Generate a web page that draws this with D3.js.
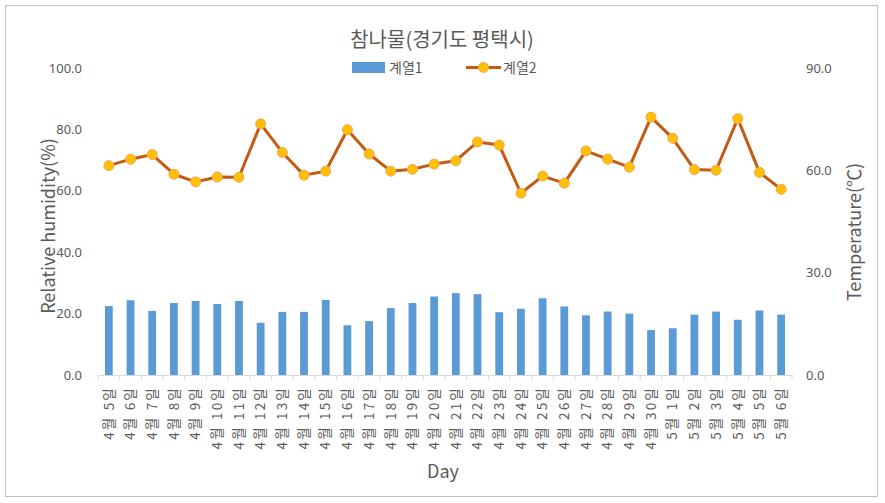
<!DOCTYPE html>
<html>
<head>
<meta charset="utf-8">
<script src="https://cdn.jsdelivr.net/npm/d3@7"></script>
<style>
  body { margin: 0; background: #fff; }
  text { font-family: "Noto Sans CJK KR", "Noto Sans", sans-serif; fill: #595959; }
</style>
</head>
<body>
<div id="chart"></div>
<script>
/*** DATA ***/
const days = ["4월 5일","4월 6일","4월 7일","4월 8일","4월 9일","4월 10일","4월 11일","4월 12일",
  "4월 13일","4월 14일","4월 15일","4월 16일","4월 17일","4월 18일","4월 19일","4월 20일",
  "4월 21일","4월 22일","4월 23일","4월 24일","4월 25일","4월 26일","4월 27일","4월 28일",
  "4월 29일","4월 30일","5월 1일","5월 2일","5월 3일","5월 4일","5월 5일","5월 6일"];
// 계열1 : bars, right axis
const series1 = [20.2,21.9,18.8,21.1,21.7,20.8,21.7,15.3,18.5,18.5,22.0,14.6,15.8,19.6,21.1,23.0,
  24.0,23.7,18.4,19.4,22.5,20.1,17.5,18.6,18.0,13.2,13.7,17.7,18.6,16.2,18.9,17.7];
// 계열2 : line, left axis
const series2 = [68.2,70.3,71.8,65.4,62.9,64.5,64.4,81.8,72.5,65.1,66.4,79.9,72.0,66.4,67.0,68.7,
  69.8,75.9,74.9,59.2,64.8,62.5,73.0,70.3,67.7,84.0,77.1,66.9,66.7,83.5,66.0,60.5];
const leftTicks = [0,20,40,60,80,100];
const rightTicks = [0,30,60,90];

/*** CHART ***/
function drawChart() {
    const width = 885, height = 503;
    const plot = {left: 98, right: 792, top: 68, bottom: 375};

    const svg = d3.select("#chart").append("svg")
        .attr("width", width)
        .attr("height", height);

    // frame
    svg.append("rect")
        .attr("x", 5.5).attr("y", 5.5)
        .attr("width", 872).attr("height", 491)
        .attr("fill", "#fff")
        .attr("stroke", "#BFBFBF");

    const x = d3.scaleBand().domain(days).range([plot.left, plot.right]).padding(0);
    const yL = d3.scaleLinear().domain([0, 100]).range([plot.bottom, plot.top]);
    const yR = d3.scaleLinear().domain([0, 90]).range([plot.bottom, plot.top]);

    // title
    svg.append("text")
        .attr("x", 442).attr("y", 47)
        .attr("text-anchor", "middle")
        .attr("font-size", 20)
        .text("참나물(경기도 평택시)");

    // left axis
    const gL = svg.append("g")
        .attr("transform", "translate(" + plot.left + ",0)")
        .call(d3.axisLeft(yL).tickValues(leftTicks).tickFormat(d3.format(".1f")).tickSize(0).tickPadding(16));
    gL.select(".domain").remove();
    gL.selectAll("text").attr("font-size", 13).style("font-family", "'Liberation Sans Narrow','Noto Sans',sans-serif").attr("fill", "#595959");

    // right axis
    const gR = svg.append("g")
        .attr("transform", "translate(" + plot.right + ",0)")
        .call(d3.axisRight(yR).tickValues(rightTicks).tickFormat(d3.format(".1f")).tickSize(0).tickPadding(14));
    gR.select(".domain").remove();
    gR.selectAll("text").attr("font-size", 13).style("font-family", "'Liberation Sans Narrow','Noto Sans',sans-serif").attr("fill", "#595959");

    // bars
    const bw = x.bandwidth() * 0.36;
    svg.selectAll("rect.bar")
        .data(series1)
        .enter().append("rect")
        .attr("class", "bar")
        .attr("x", (d, i) => x(days[i]) + x.bandwidth() / 2 - bw / 2)
        .attr("y", d => yR(d))
        .attr("width", bw)
        .attr("height", d => yR(0) - yR(d))
        .attr("fill", "#5B9BD5");

    // x axis
    const gX = svg.append("g")
        .attr("transform", "translate(0," + plot.bottom + ")")
        .call(d3.axisBottom(x).tickSize(0).tickPadding(0));
    gX.select(".domain").attr("stroke", "#D9D9D9");
    gX.selectAll(".tick text")
        .attr("font-size", 13.5)
        .attr("letter-spacing", "2.2px")
        .attr("fill", "#595959")
        .attr("transform", "rotate(-90)")
        .attr("text-anchor", "end")
        .attr("x", -11)
        .attr("y", 0)
        .attr("dy", "0.35em");
    // boundary ticks
    gX.selectAll("line.bound")
        .data(d3.range(days.length + 1))
        .enter().append("line")
        .attr("class", "bound")
        .attr("x1", i => plot.left + i * x.step())
        .attr("x2", i => plot.left + i * x.step())
        .attr("y1", 0).attr("y2", 5)
        .attr("stroke", "#D9D9D9");

    // line
    const line = d3.line()
        .x((d, i) => x(days[i]) + x.bandwidth() / 2)
        .y(d => yL(d));
    svg.append("path")
        .datum(series2)
        .attr("fill", "none")
        .attr("stroke", "#C55A11")
        .attr("stroke-width", 3)
        .attr("stroke-linejoin", "round")
        .attr("d", line);
    svg.selectAll("circle.dot")
        .data(series2)
        .enter().append("circle")
        .attr("class", "dot")
        .attr("cx", (d, i) => x(days[i]) + x.bandwidth() / 2)
        .attr("cy", d => yL(d))
        .attr("r", 5)
        .attr("fill", "#FFC000")
        .attr("stroke", "#F4A460")
        .attr("stroke-width", 1);

    // axis titles
    svg.append("text")
        .attr("transform", "translate(55,226) rotate(-90)")
        .attr("text-anchor", "middle")
        .attr("font-size", 18)
        .text("Relative humidity(%)");
    svg.append("text")
        .attr("transform", "translate(861,232) rotate(-90)")
        .attr("text-anchor", "middle")
        .attr("font-size", 18)
        .text("Temperature(℃)");
    svg.append("text")
        .attr("x", 443).attr("y", 478)
        .attr("text-anchor", "middle")
        .attr("font-size", 18)
        .text("Day");

    // legend
    const lg = svg.append("g");
    lg.append("rect")
        .attr("x", 352).attr("y", 62).attr("width", 33).attr("height", 11)
        .attr("fill", "#5B9BD5");
    lg.append("text").attr("x", 389).attr("y", 73).attr("font-size", 14).text("계열1");
    lg.append("line")
        .attr("x1", 466).attr("x2", 501).attr("y1", 67.5).attr("y2", 67.5)
        .attr("stroke", "#C55A11").attr("stroke-width", 3);
    lg.append("circle")
        .attr("cx", 483.5).attr("cy", 67.5).attr("r", 5)
        .attr("fill", "#FFC000").attr("stroke", "#F4A460");
    lg.append("text").attr("x", 503).attr("y", 73).attr("font-size", 14).text("계열2");
}

drawChart();
</script>
</body>
</html>
